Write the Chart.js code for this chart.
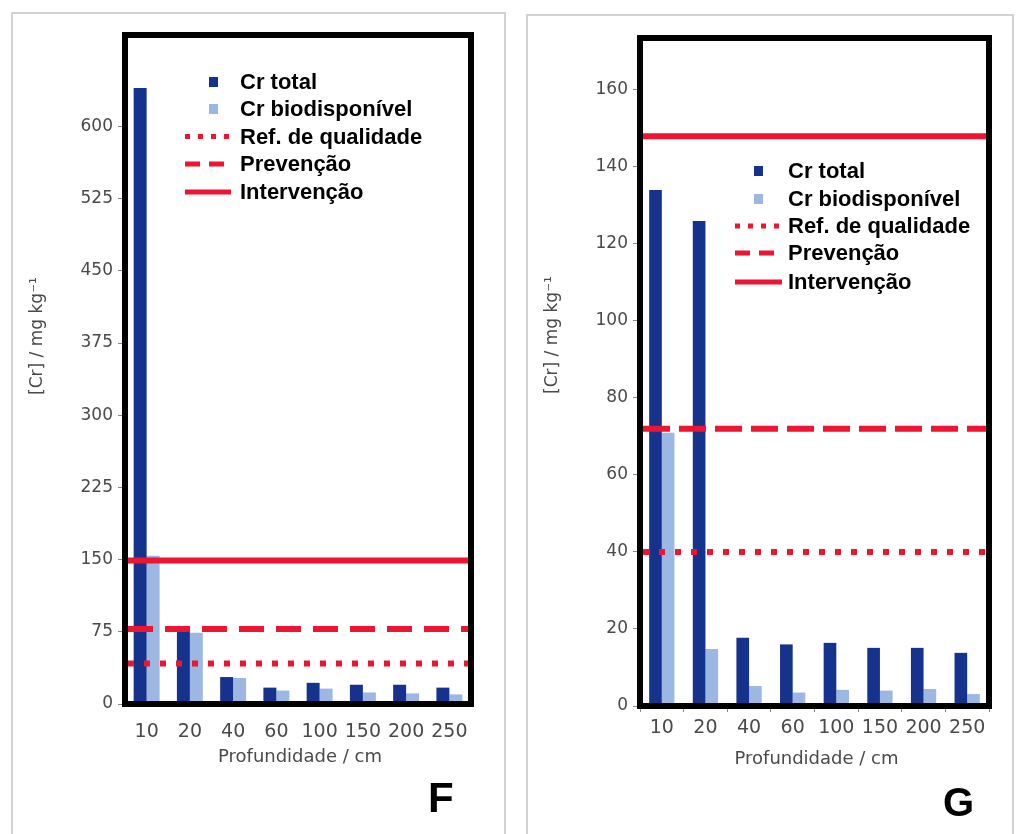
<!DOCTYPE html>
<html>
<head>
<meta charset="utf-8">
<script src="https://cdn.jsdelivr.net/npm/chart.js@4/dist/chart.umd.min.js"></script>
<style>
  body { margin: 0; background: #fff; width: 1016px; height: 834px; overflow: hidden; position: relative; }
  .panel { position: absolute; border: 2px solid #d2d2d2; box-sizing: border-box; }
  canvas { position: absolute; }
  .tag { position: absolute; font: bold 42px "Liberation Sans", Arial, sans-serif; color: #000; line-height: 1; }
</style>
</head>
<body>
<div class="panel" style="left:11px;top:12px;width:495px;height:840px"></div>
<div class="panel" style="left:526px;top:14px;width:488px;height:840px"></div>
<canvas id="chartF" width="493" height="821" style="left:12px;top:13px"></canvas>
<canvas id="chartG" width="486" height="819" style="left:527px;top:15px"></canvas>
<div class="tag" style="left:428px;top:777px">F</div>
<div class="tag" style="left:943px;top:782px;font-size:40px">G</div>

<script>
// Depths (cm)
const depths = ['10', '20', '40', '60', '100', '150', '200', '250'];

// Profile F (mg/kg)
const crTotalF = [640, 78, 28, 17, 22, 20, 20, 17];
const crBioF   = [154, 74, 27, 14, 16, 12, 11, 10];
const levelsF  = [42, 78, 149];           // Ref. de qualidade, Prevenção, Intervenção
const yTicksF  = [0, 75, 150, 225, 300, 375, 450, 525, 600];

// Profile G (mg/kg)
const crTotalG = [134, 126, 17.7, 16, 16.4, 15.1, 15.1, 13.8];
const crBioG   = [71, 14.8, 5.2, 3.5, 4.2, 4.0, 4.4, 3.1];
const levelsG  = [40, 72, 148];
const yTicksG  = [0, 20, 40, 60, 80, 100, 120, 140, 160];

const seriesNames = ['Cr total', 'Cr biodisponível'];
const levelNames  = ['Ref. de qualidade', 'Prevenção', 'Intervenção'];

const NAVY = '#15338c';
const LIGHT = '#9db7e3';
const RED = '#ee1532';
const GREY = '#4a4a4a';

Chart.defaults.font.family = '"DejaVu Sans", Verdana, sans-serif';

// Reference lines, framed plot box, in-plot legend and axis titles
const decor = {
  id: 'decor',
  afterDatasetsDraw(chart, args, o) {
    const { ctx, chartArea: a, scales: { y } } = chart;
    ctx.save();
    o.levels.forEach((v, i) => {
      const py = y.getPixelForValue(v);
      ctx.beginPath();
      ctx.setLineDash(o.dashes[i]);
      ctx.lineWidth = 6;
      ctx.strokeStyle = RED;
      ctx.moveTo(a.left + 3, py);
      ctx.lineTo(a.right - 3, py);
      ctx.stroke();
    });
    ctx.setLineDash([]);

    // frame
    ctx.lineWidth = 6;
    ctx.strokeStyle = '#000';
    ctx.strokeRect(a.left, a.top, a.right - a.left, a.bottom - a.top);

    // legend
    const L = o.legend;
    ctx.font = 'bold 22px "Liberation Sans", Arial, sans-serif';
    ctx.fillStyle = '#000';
    ctx.textBaseline = 'middle';
    ctx.textAlign = 'left';
    const swatch = [NAVY, LIGHT];
    seriesNames.forEach((name, i) => {
      const ry = L.rows[i];
      ctx.fillStyle = swatch[i];
      ctx.fillRect(L.boxX, ry - 5, 9, 10);
      ctx.fillStyle = '#000';
      ctx.fillText(name, L.textX, ry + 1);
    });
    const legendDash = [[5, 8], [15, 9], []];
    levelNames.forEach((name, i) => {
      const ry = L.rows[i + 2];
      ctx.beginPath();
      ctx.setLineDash(legendDash[i]);
      ctx.lineWidth = 5;
      ctx.strokeStyle = RED;
      ctx.moveTo(L.lineX0, ry);
      ctx.lineTo(L.lineX1, ry);
      ctx.stroke();
      ctx.setLineDash([]);
      ctx.fillStyle = '#000';
      ctx.fillText(name, L.textX, ry + 1);
    });

    // axis titles
    ctx.fillStyle = GREY;
    ctx.textAlign = 'center';
    ctx.font = '18px "DejaVu Sans", Verdana, sans-serif';
    ctx.fillText('Profundidade / cm', (a.left + a.right) / 2 + 2, a.bottom + 53);
    ctx.save();
    ctx.translate(o.yTitle[0], o.yTitle[1]);
    ctx.rotate(-Math.PI / 2);
    ctx.font = '17px "DejaVu Sans", Verdana, sans-serif';
    ctx.fillText('[Cr] / mg kg⁻¹', 0, 0);
    ctx.restore();
    ctx.restore();
  }
};

function makeChart(id, total, bio, levels, yTicks, yMax, p) {
  return new Chart(document.getElementById(id), {
    type: 'bar',
    data: {
      labels: depths,
      datasets: [
        { label: seriesNames[0], data: total, backgroundColor: NAVY, borderWidth: 0,
          categoryPercentage: p.catPct, barPercentage: 1 },
        { label: seriesNames[1], data: bio, backgroundColor: LIGHT, borderWidth: 0,
          categoryPercentage: p.catPct, barPercentage: 1 }
      ]
    },
    options: {
      responsive: false,
      animation: false,
      layout: { padding: { left: 0, right: p.padRight, top: p.padTop, bottom: 0 } },
      plugins: {
        legend: { display: false },
        tooltip: { enabled: false },
        decor: { levels, dashes: p.dashes, legend: p.legend, yTitle: p.yTitle }
      },
      scales: {
        x: {
          grid: { display: p.xTicks, drawOnChartArea: false, tickLength: 6, color: '#888' },
          border: { display: false },
          ticks: { color: GREY, font: { size: 19 }, padding: p.xTicks ? 5 : 11, maxRotation: 0, autoSkip: false },
          afterFit: s => { s.height = p.xHeight; }
        },
        y: {
          min: 0, max: yMax,
          grid: { drawOnChartArea: false, tickLength: 7, color: '#888' },
          border: { display: false },
          ticks: { color: GREY, font: { size: 17 }, padding: 5 },
          afterBuildTicks: s => { s.ticks = yTicks.map(v => ({ value: v })); },
          afterFit: s => { s.width = 113; }
        }
      }
    },
    plugins: [decor]
  });
}

makeChart('chartF', crTotalF, crBioF, levelsF, yTicksF, 695, {
  catPct: 0.6, padRight: 34, padTop: 22, xHeight: 130, xTicks: false,
  dashes: [[6, 10], [25, 12], []],
  legend: { boxX: 197, textX: 228, lineX0: 173, lineX1: 219, rows: [69, 96, 123.5, 151, 179] },
  yTitle: [26, 323]
});

makeChart('chartG', crTotalG, crBioG, levelsG, yTicksG, 173.5, {
  catPct: 0.58, padRight: 24, padTop: 23, xHeight: 128, xTicks: true,
  dashes: [[6, 10], [27, 9], []],
  legend: { boxX: 227, textX: 261, lineX0: 208, lineX1: 255, rows: [156, 184, 211, 238, 267] },
  yTitle: [26, 320]
});
</script>
</body>
</html>
